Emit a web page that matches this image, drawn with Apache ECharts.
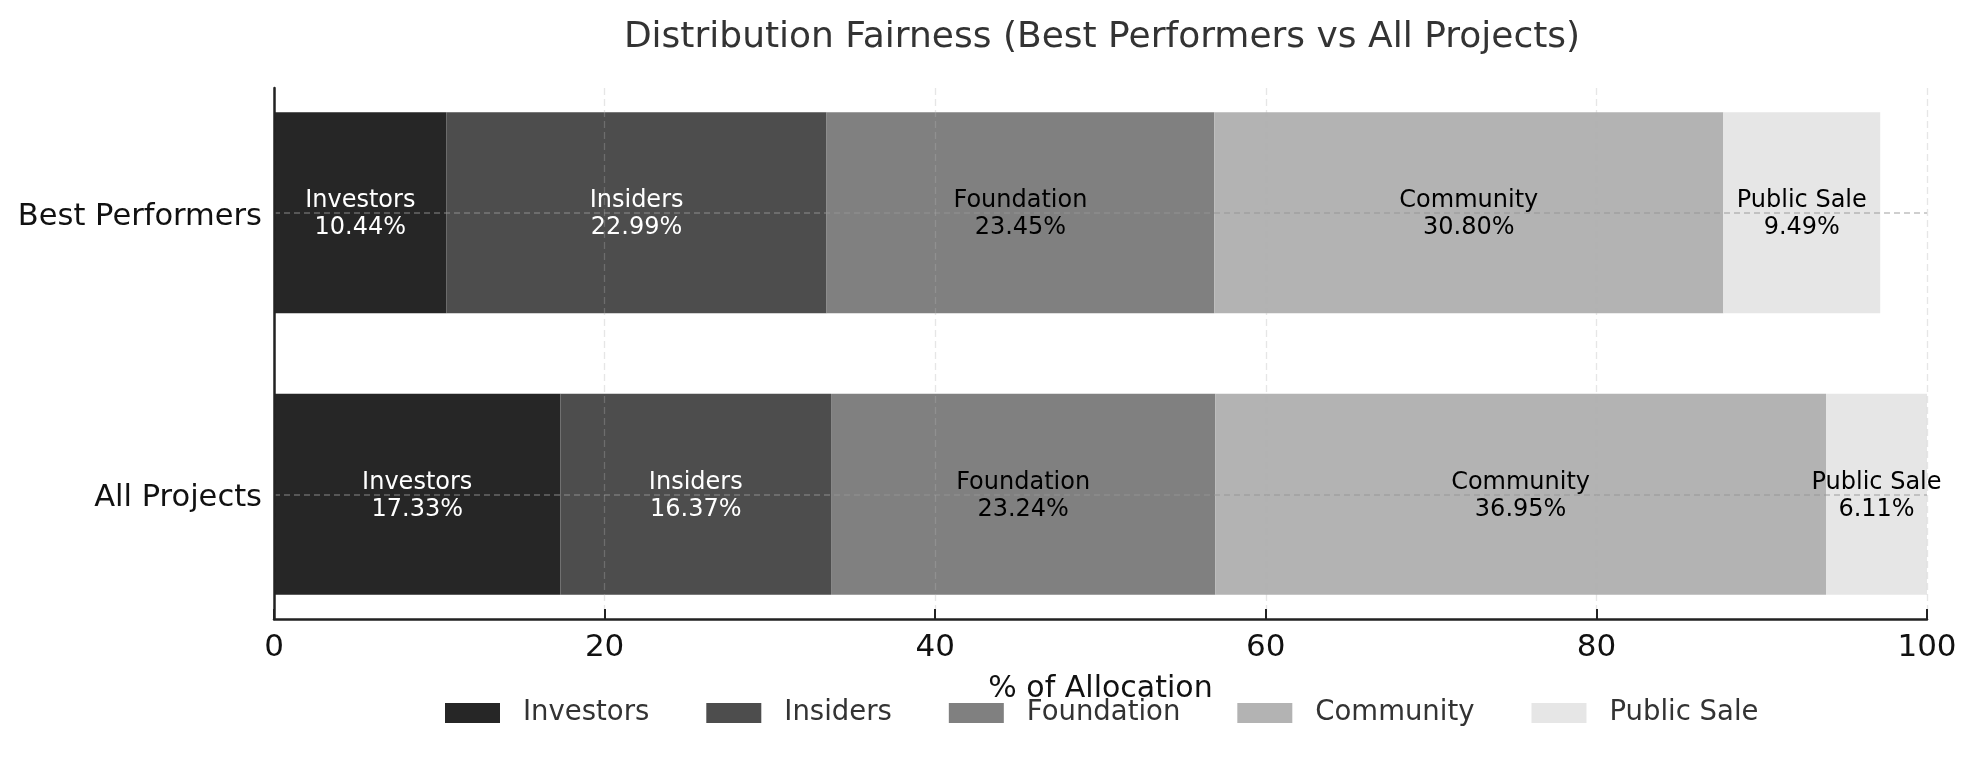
<!DOCTYPE html>
<html>
<head>
<meta charset="utf-8">
<title>Distribution Fairness</title>
<script src="https://cdn.jsdelivr.net/npm/echarts@6/dist/echarts.min.js"></script>
<style>
    html, body { margin: 0; padding: 0; background: #fff; }
    #chart { width: 1979px; height: 758px; }
</style>
</head>
<body>
<div id="chart"></div>
<script>
var categories = ['Best Performers', 'All Projects'];
var groups = ['Investors', 'Insiders', 'Foundation', 'Community', 'Public Sale'];
var investors = [10.44, 17.33];
var insiders = [22.99, 16.37];
var foundation = [23.45, 23.24];
var community = [30.80, 36.95];
var publicSale = [9.49, 6.11];
var xTicks = [0, 20, 40, 60, 80, 100];

var values = [investors, insiders, foundation, community, publicSale];
var colors = ['#262626', '#4d4d4d', '#808080', '#b3b3b3', '#e6e6e6'];
var labelColors = ['#ffffff', '#ffffff', '#000000', '#000000', '#000000'];
var font = 'DejaVu Sans';

var chart = echarts.init(document.getElementById('chart'));

var series = groups.map(function(name, i) {
    return {
        name: name,
        type: 'bar',
        stack: 'total',
        xAxisIndex: 0,
        yAxisIndex: 0,
        barWidth: '71.4%',
        itemStyle: { color: colors[i] },
        label: {
            show: true,
            position: 'inside',
            offset: [0, 2],
            fontFamily: font,
            fontSize: 24,
            lineHeight: 27,
            color: labelColors[i],
            formatter: function(p) {
                return p.seriesName + '\n' + p.value.toFixed(2) + '%';
            }
        },
        emphasis: { disabled: true },
        data: values[i]
    };
});

var option = {
    animation: false,
    backgroundColor: '#ffffff',
    title: {
        text: 'Distribution Fairness (Best Performers vs All Projects)',
        left: 1097,
        textAlign: 'center',
        top: 15,
        textStyle: { fontFamily: font, fontSize: 36, fontWeight: 'normal', color: '#333333' }
    },
    legend: {
        data: groups,
        left: 440,
        top: 694,
        itemWidth: 55,
        itemHeight: 20,
        itemGap: 57,
        icon: 'rect',
        textStyle: { fontFamily: font, fontSize: 27.5, color: '#333333', padding: [0, 0, 0, 18] }
    },
    grid: [
        // bars
        { left: 274, right: 52, top: 72, bottom: 123 },
        // axes frame
        { left: 274, right: 52, top: 88, bottom: 139 }
    ],
    xAxis: [
        { gridIndex: 0, type: 'value', min: 0, max: 100, show: false },
        {
            gridIndex: 1,
            type: 'value',
            min: xTicks[0],
            max: xTicks[xTicks.length - 1],
            interval: xTicks[1] - xTicks[0],
            z: 5,
            name: '% of Allocation',
            nameLocation: 'middle',
            nameGap: 55,
            nameTextStyle: { fontFamily: font, fontSize: 30, color: '#111111' },
            axisLine: { onZero: false, lineStyle: { color: '#222222', width: 2.5 } },
            axisTick: { inside: true, length: 10, lineStyle: { color: '#222222', width: 2 } },
            axisLabel: { fontFamily: font, fontSize: 31, color: '#111111', margin: 13 },
            splitLine: { show: true, lineStyle: { color: 'rgba(176,176,176,0.32)', width: 1.3, type: [7, 4] } }
        }
    ],
    yAxis: [
        {
            gridIndex: 0,
            type: 'category',
            inverse: true,
            data: categories,
            z: 5,
            axisLine: { show: false },
            axisTick: { show: false },
            axisLabel: {
                fontFamily: font, fontSize: 30.5, color: '#111111', margin: 12,
                verticalAlign: 'top', lineHeight: 8
            },
            splitLine: {
                show: true,
                alignWithLabel: true,
                lineStyle: { color: 'rgba(150,150,150,0.6)', width: 1.5, type: [6, 4] }
            }
        },
        {
            gridIndex: 1,
            type: 'value',
            min: 0,
            max: 1,
            z: 5,
            axisLine: { show: true, onZero: false, lineStyle: { color: '#222222', width: 2.5 } },
            axisTick: { show: false },
            axisLabel: { show: false },
            splitLine: { show: false }
        }
    ],
    series: series
};

chart.setOption(option);
</script>
</body>
</html>
